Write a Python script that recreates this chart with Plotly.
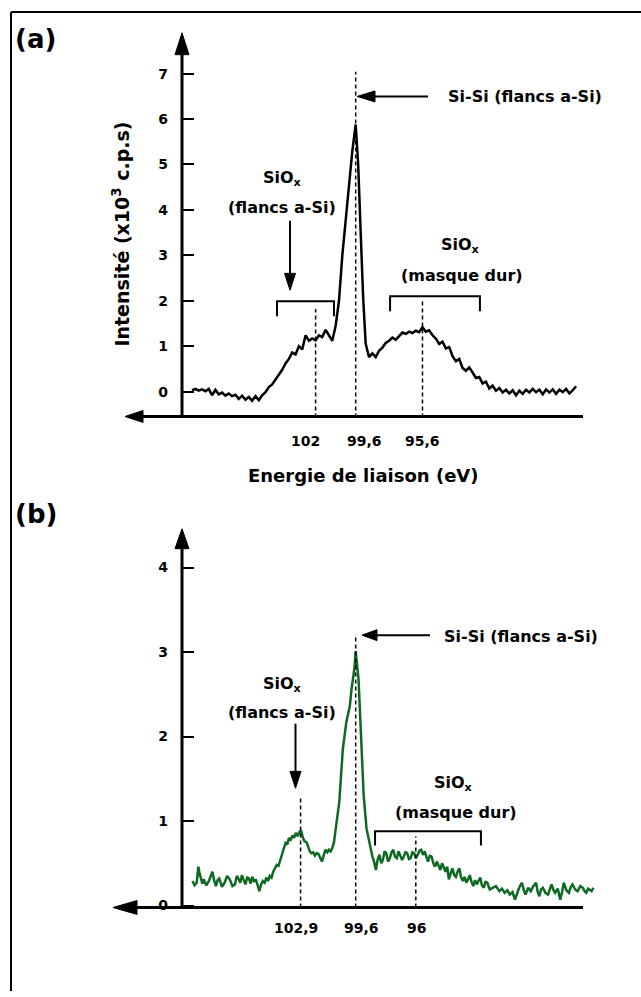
import plotly.graph_objects as go

W, H = 641, 997

# spectre (a) : flancs a-Si, trace noire (intensite en x10^3 c.p.s)
energie_a = [109.4, 109.2, 109.0, 108.8, 108.6, 108.4, 108.2, 108.0, 107.8, 107.6,
             107.4, 107.2, 107.0, 106.8, 106.6, 106.4, 106.2, 106.0, 105.8, 105.6,
             105.4, 105.2, 105.0, 104.8, 104.6, 104.4, 104.2, 104.0, 103.8, 103.6,
             103.4, 103.2, 103.0, 102.8, 102.6, 102.4, 102.2, 102.0, 101.8, 101.6,
             101.4, 101.2, 101.0, 100.8, 100.6, 100.4, 100.2, 100.0, 99.8, 99.6,
             99.45, 99.3, 99.15, 99.0, 98.8, 98.6, 98.4, 98.2, 98.0, 97.8,
             97.6, 97.4, 97.2, 97.0, 96.8, 96.6, 96.4, 96.2, 96.0, 95.8,
             95.6, 95.4, 95.2, 95.0, 94.8, 94.6, 94.4, 94.2, 94.0, 93.8,
             93.6, 93.4, 93.2, 93.0, 92.8, 92.6, 92.4, 92.2, 92.0, 91.8,
             91.6, 91.4, 91.2, 91.0, 90.8, 90.6, 90.4, 90.2, 90.0, 89.8,
             89.6, 89.4, 89.2, 89.0, 88.8, 88.6, 88.4, 88.2, 88.0, 87.8,
             87.6, 87.4, 87.2, 87.0, 86.8, 86.6, 86.4]
intensite_a = [0.03, 0.06, 0.02, 0.05, 0.01, 0.06, -0.08, 0.04, -0.06, -0.02,
               -0.09, -0.04, -0.10, -0.07, -0.16, -0.09, -0.18, -0.12, -0.20, -0.10,
               -0.19, -0.08, -0.01, 0.10, 0.16, 0.26, 0.37, 0.48, 0.62, 0.72,
               0.86, 0.82, 1.00, 0.93, 1.24, 1.12, 1.17, 1.13, 1.24, 1.20,
               1.36, 1.25, 1.12, 1.45, 2.00, 3.00, 3.80, 4.60, 5.30, 5.88,
               5.00, 3.50, 2.05, 1.05, 0.76, 0.84, 0.76, 0.90, 0.97, 1.07,
               1.12, 1.19, 1.14, 1.22, 1.30, 1.27, 1.32, 1.29, 1.34, 1.31,
               1.42, 1.32, 1.35, 1.24, 1.17, 1.05, 1.10, 0.95, 0.98, 0.78,
               0.67, 0.72, 0.52, 0.46, 0.53, 0.42, 0.30, 0.32, 0.18, 0.22,
               0.07, 0.13, 0.02, 0.08, -0.02, 0.04, -0.04, 0.03, -0.08, 0.02,
               -0.05, 0.04, -0.02, 0.06, -0.01, 0.04, -0.06, 0.05, -0.02, 0.05,
               -0.05, 0.04, -0.01, 0.06, -0.04, 0.03, 0.12]

# spectre (b) : trace verte
energie_b = [109.37, 109.25, 109.12, 109.02, 108.95, 108.87, 108.78, 108.70, 108.55, 108.39,
             108.28, 108.18, 108.08, 107.97, 107.87, 107.77, 107.61, 107.45, 107.30, 107.14,
             106.98, 106.83, 106.72, 106.62, 106.51, 106.41, 106.30, 106.20, 106.10, 105.99,
             105.89, 105.79, 105.68, 105.58, 105.47, 105.37, 105.26, 105.16, 105.05, 104.95,
             104.85, 104.75, 104.64, 104.54, 104.43, 104.33, 104.22, 104.12, 104.01, 103.91,
             103.80, 103.70, 103.60, 103.50, 103.39, 103.29, 103.18, 103.08, 102.97, 102.87,
             102.76, 102.66, 102.55, 102.45, 102.35, 102.25, 102.14, 102.04, 101.93, 101.83,
             101.72, 101.62, 101.51, 101.41, 101.30, 101.20, 101.10, 101.00, 100.90, 100.79,
             100.58, 100.37, 100.16, 99.95, 99.85, 99.68, 99.60, 99.43, 99.29, 99.12,
             98.95, 98.81, 98.60, 98.50, 98.39, 98.28, 98.18, 98.07, 97.97, 97.87,
             97.77, 97.66, 97.56, 97.45, 97.35, 97.25, 97.14, 97.03, 96.93, 96.82,
             96.72, 96.62, 96.52, 96.41, 96.31, 96.20, 96.10, 96.00, 95.89, 95.78,
             95.68, 95.57, 95.47, 95.37, 95.27, 95.16, 95.06, 94.95, 94.85, 94.74,
             94.64, 94.53, 94.43, 94.32, 94.22, 94.12, 94.02, 93.91, 93.81, 93.70,
             93.60, 93.50, 93.39, 93.29, 93.18, 93.08, 92.97, 92.87, 92.77, 92.66,
             92.56, 92.45, 92.35, 92.25, 92.14, 92.04, 91.93, 91.83, 91.72, 91.57,
             91.41, 91.20, 91.00, 90.84, 90.68, 90.52, 90.37, 90.21, 90.06, 89.95,
             89.85, 89.74, 89.64, 89.53, 89.43, 89.27, 89.12, 88.96, 88.80, 88.70,
             88.60, 88.50, 88.39, 88.24, 88.08, 87.98, 87.87, 87.77, 87.66, 87.50,
             87.35, 87.24, 87.14, 86.98, 86.83, 86.72, 86.62, 86.46, 86.31, 86.15,
             86.00, 85.89, 85.79, 85.68, 85.58, 85.47, 85.37]
intensite_b = [0.29, 0.24, 0.27, 0.46, 0.38, 0.33, 0.26, 0.31, 0.24, 0.29,
               0.35, 0.40, 0.30, 0.23, 0.30, 0.32, 0.22, 0.27, 0.35, 0.31,
               0.23, 0.25, 0.35, 0.32, 0.27, 0.36, 0.30, 0.25, 0.33, 0.32,
               0.26, 0.34, 0.28, 0.31, 0.24, 0.17, 0.25, 0.29, 0.27, 0.33,
               0.29, 0.35, 0.33, 0.40, 0.44, 0.48, 0.47, 0.54, 0.62, 0.68,
               0.74, 0.72, 0.80, 0.77, 0.83, 0.80, 0.86, 0.82, 0.87, 0.89,
               0.80, 0.76, 0.75, 0.70, 0.64, 0.62, 0.63, 0.59, 0.62, 0.61,
               0.57, 0.52, 0.60, 0.66, 0.63, 0.66, 0.64, 0.68, 0.75, 0.91,
               1.23, 1.85, 2.17, 2.36, 2.56, 2.80, 3.01, 2.68, 2.09, 1.30,
               0.91, 0.76, 0.58, 0.52, 0.42, 0.55, 0.60, 0.50, 0.54, 0.64,
               0.62, 0.52, 0.56, 0.63, 0.66, 0.58, 0.56, 0.64, 0.60, 0.54,
               0.58, 0.63, 0.62, 0.55, 0.56, 0.63, 0.62, 0.56, 0.60, 0.65,
               0.66, 0.60, 0.64, 0.58, 0.52, 0.59, 0.58, 0.50, 0.46, 0.52,
               0.48, 0.42, 0.50, 0.44, 0.40, 0.46, 0.31, 0.38, 0.44, 0.36,
               0.34, 0.40, 0.44, 0.33, 0.29, 0.34, 0.27, 0.31, 0.36, 0.28,
               0.23, 0.30, 0.25, 0.29, 0.33, 0.24, 0.21, 0.28, 0.27, 0.19,
               0.21, 0.23, 0.17, 0.20, 0.15, 0.18, 0.13, 0.16, 0.07, 0.15,
               0.19, 0.24, 0.27, 0.18, 0.13, 0.21, 0.17, 0.23, 0.27, 0.16,
               0.11, 0.19, 0.21, 0.15, 0.13, 0.19, 0.25, 0.19, 0.15, 0.20,
               0.07, 0.16, 0.27, 0.18, 0.15, 0.22, 0.25, 0.19, 0.17, 0.23,
               0.21, 0.17, 0.15, 0.20, 0.19, 0.17, 0.21]

ticks_a = [0, 1, 2, 3, 4, 5, 6, 7]
ticks_b = [0, 1, 2, 3, 4]
pics_a = [102, 99.6, 95.6]
labels_a = ["102", "99,6", "95,6"]
pics_b = [102.9, 99.6, 96]
labels_b = ["102,9", "99,6", "96"]

FONT = "DejaVu Sans"
VERT = "#0e6a22"


def px(x):
    return x / W


def py(y):
    return 1 - y / H


fig = go.Figure()
fig.add_trace(go.Scatter(x=energie_a, y=intensite_a, mode="lines",
                         line=dict(color="black", width=2.5),
                         xaxis="x", yaxis="y", showlegend=False))
fig.add_trace(go.Scatter(x=energie_b, y=intensite_b, mode="lines",
                         line=dict(color=VERT, width=2.5),
                         xaxis="x2", yaxis="y2", showlegend=False))

tickfont = dict(family=FONT, size=14, color="black", weight="bold")
yaxe = dict(ticks="inside", ticklen=12, tickwidth=2, tickcolor="black",
            showgrid=False, zeroline=False, showline=False,
            tickfont=tickfont, ticklabelstandoff=13, fixedrange=True)

fig.update_layout(
    width=W, height=H, autosize=False,
    margin=dict(l=0, r=0, t=0, b=0),
    paper_bgcolor="white", plot_bgcolor="white",
    xaxis=dict(domain=[px(182), px(599.5)], range=[110, 85], visible=False, anchor="y"),
    yaxis=dict(domain=[py(420), py(33)], range=[-0.569, 7.898], tickvals=ticks_a,
               anchor="x", **yaxe),
    xaxis2=dict(domain=[px(182), px(599.5)], range=[110, 85], visible=False, anchor="y2"),
    yaxis2=dict(domain=[py(913), py(532)], range=[-0.0235, 4.459], tickvals=ticks_b,
                anchor="x2", **yaxe),
)

shapes = []
annotations = []


def line_px(x0, y0, x1, y1, w=2):
    shapes.append(dict(type="line", xref="paper", yref="paper",
                       x0=px(x0), y0=py(y0), x1=px(x1), y1=py(y1),
                       line=dict(color="black", width=w)))


def arrow(x0, y0, x1, y1, L, Wd, w):
    # fleche du point (x0,y0) vers la pointe (x1,y1), en pixels
    dx, dy = x1 - x0, y1 - y0
    n = (dx * dx + dy * dy) ** 0.5
    ux, uy = dx / n, dy / n
    bx, by = x1 - L * ux, y1 - L * uy
    nx, ny = -uy, ux
    line_px(x0, y0, bx + ux, by + uy, w)
    p = [(x1, y1), (bx + nx * Wd / 2, by + ny * Wd / 2), (bx - nx * Wd / 2, by - ny * Wd / 2)]
    path = "M " + " L ".join(f"{px(a):.5f},{py(b):.5f}" for a, b in p) + " Z"
    shapes.append(dict(type="path", xref="paper", yref="paper", path=path,
                       fillcolor="black", line=dict(color="black", width=1)))


def text_px(x, y, s, size=16):
    annotations.append(dict(xref="paper", yref="paper", x=px(x), y=py(y), text=s,
                            showarrow=False, xanchor="center", yanchor="middle",
                            font=dict(family=FONT, size=size, color="black", weight="bold")))


# cadre
line_px(11, 12, 641, 12, 2)
line_px(11, 12, 11, 997, 2)

# axes avec fleches
arrow(182, 420, 182, 33, 22, 14, 3)
arrow(583, 419, 125, 419, 18, 12, 3)
arrow(182, 913, 182, 532, 20, 14, 3)
arrow(583, 913, 113, 913, 24, 14, 3)

# lignes pointillees des pics
tops_a = [1.82, 7.04, 1.99]
tops_b = [1.27, 3.21, 0.82]
for e, t in zip(pics_a, tops_a):
    shapes.append(dict(type="line", xref="x", yref="y", x0=e, x1=e, y0=-0.569, y1=t,
                       line=dict(color="black", width=1.5, dash="4px,3px")))
for e, t in zip(pics_b, tops_b):
    shapes.append(dict(type="line", xref="x2", yref="y2", x0=e, x1=e, y0=-0.0235, y1=t,
                       line=dict(color="black", width=1.5, dash="4px,3px")))


# crochets
def bracket(xr, yr, e0, e1, top, bot):
    shapes.append(dict(type="path", xref=xr, yref=yr,
                       path=f"M {e0},{bot} L {e0},{top} L {e1},{top} L {e1},{bot}",
                       line=dict(color="black", width=2)))


bracket("x", "y", 104.31, 100.9, 1.99, 1.66)
bracket("x", "y", 97.54, 92.16, 2.10, 1.77)
bracket("x2", "y2", 98.44, 92.10, 0.88, 0.71)

# fleches d'annotation
arrow(428, 97, 357, 97, 18, 11, 2)
arrow(430, 639, 362, 639, 15, 11, 2)
arrow(290, 222, 290, 292, 17, 11, 2)
arrow(295.5, 728, 295.5, 793, 17, 11, 2)

# textes
text_px(35, 39, "(a)", 26)
text_px(36, 517, "(b)", 26)
text_px(525, 97, "Si-Si (flancs a-Si)")
text_px(521, 640, "Si-Si (flancs a-Si)")
text_px(282, 180, "SiO<sub>x</sub>")
text_px(282, 209, "(flancs a-Si)")
text_px(460, 247, "SiO<sub>x</sub>")
text_px(462, 277, "(masque dur)")
text_px(282, 689, "SiO<sub>x</sub>")
text_px(282, 717, "(flancs a-Si)")
text_px(453, 788, "SiO<sub>x</sub>")
text_px(456, 817, "(masque dur)")
text_px(363, 478, "Energie de liaison (eV)", 18)
annotations.append(dict(xref="paper", yref="paper", x=px(121), y=py(236),
                        text="Intensité (x10<sup>3</sup> c.p.s)", textangle=-90,
                        showarrow=False, xanchor="center", yanchor="middle",
                        font=dict(family=FONT, size=19, color="black", weight="bold")))

# etiquettes des energies
for e, s, dxp in zip(pics_a, labels_a, [-10, 9, 0]):
    annotations.append(dict(xref="x", yref="paper", x=e, y=py(444), text=s, xshift=dxp,
                            showarrow=False, xanchor="center", yanchor="middle", font=tickfont))
for e, s, dxp in zip(pics_b, labels_b, [-5, 6, 1]):
    annotations.append(dict(xref="x2", yref="paper", x=e, y=py(934), text=s, xshift=dxp,
                            showarrow=False, xanchor="center", yanchor="middle", font=tickfont))

fig.update_layout(shapes=shapes, annotations=annotations)
fig.write_html("out.html", config={"displayModeBar": False},
               post_script="document.body.style.margin='0';")
